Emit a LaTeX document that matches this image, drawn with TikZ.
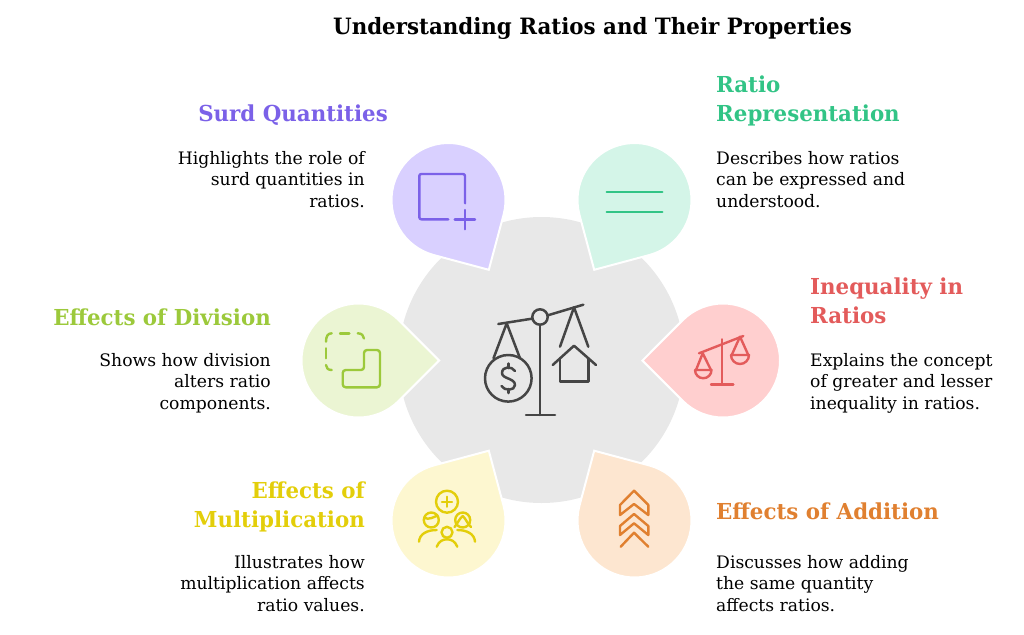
\documentclass[tikz,border=0pt]{standalone}
\usepackage{fontspec}
\newfontfamily\bodyfont{DejaVu Serif}
\newfontfamily\headfont[FakeStretch=0.97,BoldFont={DejaVu Serif Bold}]{DejaVu Serif}
\newfontfamily\titlefont[FakeStretch=0.95,BoldFont={DejaVu Serif Bold}]{DejaVu Serif}
\definecolor{surdfill}{HTML}{D9D0FF}\definecolor{surdline}{HTML}{7B61E8}
\definecolor{ratiofill}{HTML}{D4F5E8}\definecolor{ratioline}{HTML}{32C486}
\definecolor{ineqfill}{HTML}{FFCFCF}\definecolor{ineqline}{HTML}{E35B5B}
\definecolor{divfill}{HTML}{EBF5D3}\definecolor{divline}{HTML}{9CC93B}
\definecolor{multfill}{HTML}{FDF7D0}\definecolor{multline}{HTML}{E3CE0A}
\definecolor{addfill}{HTML}{FDE6D0}\definecolor{addline}{HTML}{E08030}
\definecolor{hubfill}{HTML}{E8E8E8}\definecolor{hubline}{HTML}{454545}
\newcommand{\headstrut}{\rule{0pt}{20pt}}
\newcommand{\bodystrut}{\rule{0pt}{15pt}}
\newcommand{\teardrop}[4]{%
  \begin{scope}[shift={(#1,#2)},rotate=#3]
    \fill[#4,draw=white,line width=2pt,miter limit=10] (0:80.6) -- (45:57) arc (45:315:57) -- cycle;
  \end{scope}}
\tikzset{
  headleft/.style={anchor=north west,inner sep=0pt,align=left,font=\headfont\fontsize{22}{29}\selectfont\bfseries},
  headright/.style={anchor=north east,inner sep=0pt,align=right,font=\headfont\fontsize{22}{29}\selectfont\bfseries},
  bodyleft/.style={anchor=north west,inner sep=0pt,align=left,font=\bodyfont\fontsize{17.2}{21.5}\selectfont,text=black},
  bodyright/.style={anchor=north east,inner sep=0pt,align=right,font=\bodyfont\fontsize{17.2}{21.5}\selectfont,text=black},
  icon/.style={line width=2.4pt,line cap=round,line join=round,fill=none},
  hubicon/.style={line width=2.5pt,line cap=round,line join=round,draw=hubline,fill=none},
}
\begin{document}
\begin{tikzpicture}[x=1pt,y=1pt,yscale=-1]
\useasboundingbox (0,0) rectangle (1024,634);
% hub
\fill[hubfill] (541.5,360) circle[radius=143];
% teardrops
\teardrop{448.5}{200}{60}{surdfill}
\teardrop{634.5}{200}{120}{ratiofill}
\teardrop{723}{360.5}{180}{ineqfill}
\teardrop{358.5}{360.5}{0}{divfill}
\teardrop{448.5}{520.5}{-60}{multfill}
\teardrop{634.5}{520.5}{-120}{addfill}
% hub scale icon
\begin{scope}[hubicon]
  \draw (498.3,324) -- (532.5,318.6) (547.5,315.4) -- (583.3,304.7);
  \draw (540,317) circle[radius=7.7];
  \draw (540,324.7) -- (540,415) (526,415) -- (555,415);
  \draw (493.5,358.3) -- (506.7,323.3) -- (520,358.3);
  \draw (508.3,378.3) circle[radius=23.3];
  \draw (515,371) .. controls (512,366) and (502,366) .. (502,373) .. controls (502,379) and (515,378) .. (515,385) .. controls (515,391) and (504,391) .. (501.5,386);
  \draw (508.3,363.5) -- (508.3,368) (508.3,389) -- (508.3,393);
  \draw (560,346.7) -- (574,307.3) -- (588.3,346.7);
  \draw (552.7,365) -- (574,345.7) -- (596,365);
  \draw (560,358.5) -- (560,381.7) -- (588.3,381.7) -- (588.3,358.5);
\end{scope}
% surd icon
\draw[icon,draw=surdline,rounded corners=2pt] (448.3,219.3) -- (419.3,219.3) -- (419.3,174) -- (465,174) -- (465,203.3);
\draw[icon,draw=surdline] (454.7,219.3) -- (475,219.3) (465,210) -- (465,229.3);
% ratio icon
\draw[icon,draw=ratioline] (606.7,191.7) -- (662.3,191.7) (606.7,211.7) -- (662.3,211.7);
% inequality icon
\begin{scope}[icon,draw=ineqline]
  \draw[ineqline] (699,353.3) -- (743.3,336);
  \draw[ineqline] (722,339.3) -- (722,384.3) (711,384.3) -- (733.3,384.3);
  \draw[ineqline] (696,370) -- (702.7,353.3) -- (711,370);
  \draw[ineqline] (695,370) -- (711.5,370) arc (0:180:8.25);
  \draw[ineqline] (731.7,355) -- (740,336.7) -- (748.3,355);
  \draw[ineqline] (731,355) -- (749,355) arc (0:180:9);
\end{scope}
% division icon
\begin{scope}[icon,draw=divline]
  \draw[divline] (326,341.7) .. controls (326,336) and (328,333.3) .. (331.7,333.3);
  \draw[divline] (340,333.3) -- (349.3,333.3);
  \draw[divline] (357.7,333.3) .. controls (361.5,333.3) and (364,335.5) .. (364,338.5);
  \draw[divline] (326,348.3) -- (326,358.3);
  \draw[divline] (326,365) .. controls (326,368) and (328,370) .. (331.7,370);
  \draw[divline,rounded corners=3pt] (364,350) -- (380,350) -- (380,387.3) -- (342.7,387.3) -- (342.7,370) -- (364,370) -- cycle;
\end{scope}
% multiplication icon
\begin{scope}[icon,draw=multline]
  \draw[multline] (447,501.7) circle[radius=11];
  \draw[multline] (442,501.7) -- (452,501.7) (447,496.7) -- (447,506.7);
  \draw[multline] (431.3,520) circle[radius=7.5];
  \draw[multline] (424.5,518) .. controls (429,520) and (434,517) .. (437.5,515.5);
  \draw[multline] (462.7,520) circle[radius=7.5];
  \draw[multline] (454.5,527) .. controls (458,523) and (459,519) .. (462.7,516) .. controls (466,519) and (467,523) .. (471,527);
  \draw[multline] (447,532.3) circle[radius=5.5];
  \draw[multline] (419,541.7) .. controls (419.5,534) and (427,530) .. (436.7,530);
  \draw[multline] (475,541.7) .. controls (474.5,534) and (467,530) .. (457.3,530);
  \draw[multline] (436.7,546.7) .. controls (439,541) and (443,539.3) .. (447,539.3) .. controls (451,539.3) and (455,541) .. (457.3,546.7);
\end{scope}
% addition icon
\begin{scope}[icon,draw=addline]
  \draw[addline,line join=round] (634,490.7) -- (648.3,505) -- (648.3,515) -- (634,504) -- (620,515) -- (620,505) -- cycle;
  \draw[addline] (634,514) -- (648.3,526) -- (648.3,535) -- (634,523.3) -- (620,535) -- (620,526) -- cycle;
  \draw[addline] (620.7,546.7) -- (634,532.7) -- (648.3,546.7);
\end{scope}
% title
\node[anchor=north,inner sep=0pt,font=\titlefont\fontsize{22.5}{29}\selectfont\bfseries,text=black] (title) at (592.5,14) {\headstrut Understanding Ratios and Their Properties};
% surd
\node[headright,text=surdline] (surdhead) at (388,101) {\headstrut Surd Quantities};
\node[bodyright] (surdbody) at (365,149) {\bodystrut Highlights the role of\\surd quantities in\\ratios.};
% ratio
\node[headleft,text=ratioline] (ratiohead) at (716,72) {\headstrut Ratio\\Representation};
\node[bodyleft] (ratiobody) at (716,149) {\bodystrut Describes how ratios\\can be expressed and\\understood.};
% inequality
\node[headleft,text=ineqline] (ineqhead) at (810,274.5) {\headstrut Inequality in\\Ratios};
\node[bodyleft] (ineqbody) at (810,351) {\bodystrut Explains the concept\\of greater and lesser\\inequality in ratios.};
% division
\node[headright,text=divline] (divhead) at (271,305) {\headstrut Effects of Division};
\node[bodyright] (divbody) at (271,351) {\bodystrut Shows how division\\alters ratio\\components.};
% multiplication
\node[headright,text=multline] (multhead) at (365,478) {\headstrut Effects of\\Multiplication};
\node[bodyright] (multbody) at (365,553) {\bodystrut Illustrates how\\multiplication affects\\ratio values.};
% addition
\node[headleft,text=addline] (addhead) at (716,499) {\headstrut Effects of Addition};
\node[bodyleft] (addbody) at (716,553) {\bodystrut Discusses how adding\\the same quantity\\affects ratios.};
\end{tikzpicture}
\end{document}
